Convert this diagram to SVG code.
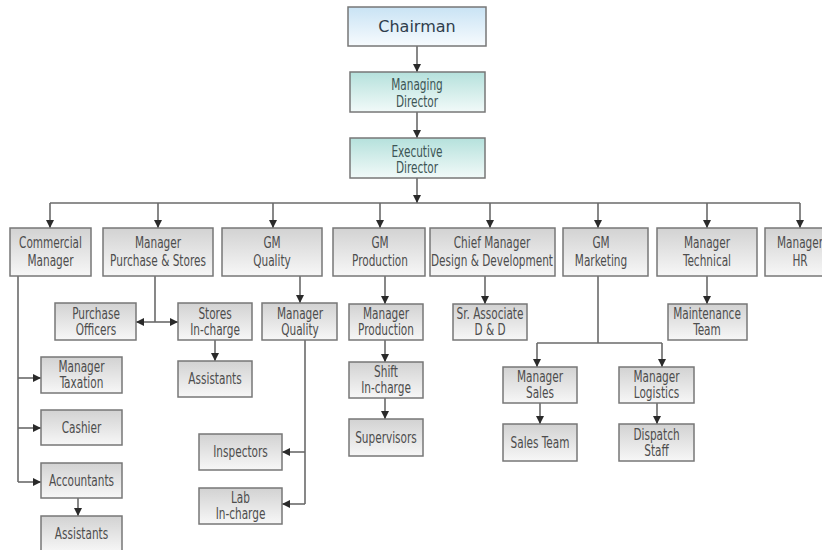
<svg xmlns="http://www.w3.org/2000/svg" width="822" height="550" viewBox="0 0 822 550">
<defs>
<linearGradient id="gGray" x1="0" y1="0" x2="0" y2="1"><stop offset="0" stop-color="#d2d2d2"/><stop offset="1" stop-color="#f7f7f7"/></linearGradient>
<linearGradient id="gTeal" x1="0" y1="0" x2="0" y2="1"><stop offset="0" stop-color="#b5e1dc"/><stop offset="1" stop-color="#f2faf9"/></linearGradient>
<linearGradient id="gBlue" x1="0" y1="0" x2="0" y2="1"><stop offset="0" stop-color="#c9e3f4"/><stop offset="1" stop-color="#f7fbfe"/></linearGradient>
<marker id="ah" markerUnits="userSpaceOnUse" markerWidth="9" markerHeight="8" refX="8" refY="4" orient="auto"><path d="M0,0 L8,4 L0,8 z" fill="#2a2a2a"/></marker>
</defs>
<style>
.box{fill:url(#gGray);stroke:#777777;stroke-width:1.5}
.teal{fill:url(#gTeal);stroke:#777777;stroke-width:1.5}
.blue{fill:url(#gBlue);stroke:#777777;stroke-width:1.5}
.t{font-family:"DejaVu Sans Condensed","DejaVu Sans",sans-serif;font-stretch:condensed;font-size:15px;fill:#4d4d4d;text-anchor:middle}
.tt{fill:#3d5555}
.big{font-family:"DejaVu Sans","Liberation Sans",sans-serif;font-size:16px;fill:#2f3d4c;text-anchor:middle}
.c{fill:none;stroke:#6a6a6a;stroke-width:1.6}
.a{marker-end:url(#ah)}
</style>
<rect width="822" height="550" fill="#ffffff"/>
<g id="connectors">
<path class="c a" d="M417,46 V72"/>
<path class="c a" d="M417,112 V138"/>
<path class="c a" d="M417,178 V203"/>
<path class="c" d="M50,203 H800"/>
<path class="c a" d="M50,203 V228"/>
<path class="c a" d="M158,203 V228"/>
<path class="c a" d="M273,203 V228"/>
<path class="c a" d="M380,203 V228"/>
<path class="c a" d="M490,203 V228"/>
<path class="c a" d="M598,203 V228"/>
<path class="c a" d="M707,203 V228"/>
<path class="c a" d="M800,203 V228"/>
<path class="c" d="M18,276 V482"/>
<path class="c a" d="M18,378 H41"/>
<path class="c a" d="M18,428 H41"/>
<path class="c a" d="M18,482 H41"/>
<path class="c a" d="M78,498 V516"/>
<path class="c" d="M155,276 V322"/>
<path class="c a" d="M155,322 H136"/>
<path class="c a" d="M155,322 H178"/>
<path class="c a" d="M215,340 V361"/>
<path class="c a" d="M300,276 V303"/>
<path class="c" d="M305,340 V504"/>
<path class="c a" d="M305,452 H282"/>
<path class="c a" d="M305,504 H282"/>
<path class="c a" d="M385,276 V304"/>
<path class="c a" d="M385,340 V362"/>
<path class="c a" d="M385,398 V419"/>
<path class="c a" d="M485,276 V304"/>
<path class="c" d="M598,276 V343"/>
<path class="c" d="M537,343 H662"/>
<path class="c a" d="M537,343 V367"/>
<path class="c a" d="M662,343 V367"/>
<path class="c a" d="M540,403 V424"/>
<path class="c a" d="M657,403 V424"/>
<path class="c a" d="M707,276 V304"/>
</g>
<g id="chairman"><rect class="blue" x="348" y="7" width="138" height="39"/><text class="big" x="417" y="32">Chairman</text></g>
<g id="managing-director"><rect class="teal" x="350" y="72" width="135" height="40"/><text class="t tt" transform="translate(417,0) scale(0.78,1)"><tspan x="0" y="90.5">Managing</tspan><tspan x="0" y="107">Director</tspan></text></g>
<g id="executive-director"><rect class="teal" x="350" y="138" width="135" height="40"/><text class="t tt" transform="translate(417,0) scale(0.78,1)"><tspan x="0" y="157">Executive</tspan><tspan x="0" y="173.5">Director</tspan></text></g>
<g id="commercial-manager"><rect class="box" x="10" y="228" width="81" height="48"/><text class="t" transform="translate(50.5,0) scale(0.78,1)"><tspan x="0" y="248.5">Commercial</tspan><tspan x="0" y="266.5">Manager</tspan></text></g>
<g id="manager-purchase-stores"><rect class="box" x="103" y="228" width="110" height="48"/><text class="t" transform="translate(158,0) scale(0.78,1)"><tspan x="0" y="248.5">Manager</tspan><tspan x="0" y="266.5">Purchase &amp; Stores</tspan></text></g>
<g id="gm-quality"><rect class="box" x="222" y="228" width="100" height="48"/><text class="t" transform="translate(272,0) scale(0.78,1)"><tspan x="0" y="248.5">GM</tspan><tspan x="0" y="266.5">Quality</tspan></text></g>
<g id="gm-production"><rect class="box" x="333" y="228" width="92" height="48"/><text class="t" transform="translate(380,0) scale(0.78,1)"><tspan x="0" y="248.5">GM</tspan><tspan x="0" y="266.5">Production</tspan></text></g>
<g id="chief-manager-dd"><rect class="box" x="430" y="228" width="125" height="48"/><text class="t" transform="translate(492,0) scale(0.78,1)"><tspan x="0" y="248.5">Chief Manager</tspan><tspan x="0" y="266.5">Design &amp; Development</tspan></text></g>
<g id="gm-marketing"><rect class="box" x="563" y="228" width="85" height="48"/><text class="t" transform="translate(601,0) scale(0.78,1)"><tspan x="0" y="248.5">GM</tspan><tspan x="0" y="266.5">Marketing</tspan></text></g>
<g id="manager-technical"><rect class="box" x="657" y="228" width="100" height="48"/><text class="t" transform="translate(707,0) scale(0.78,1)"><tspan x="0" y="248.5">Manager</tspan><tspan x="0" y="266.5">Technical</tspan></text></g>
<g id="manager-hr"><rect class="box" x="765" y="228" width="72" height="48"/><text class="t" transform="translate(800,0) scale(0.78,1)"><tspan x="0" y="248.5">Manager</tspan><tspan x="0" y="266.5">HR</tspan></text></g>
<g id="purchase-officers"><rect class="box" x="55" y="303" width="81" height="37"/><text class="t" transform="translate(96,0) scale(0.78,1)"><tspan x="0" y="319.5">Purchase</tspan><tspan x="0" y="335.5">Officers</tspan></text></g>
<g id="stores-incharge"><rect class="box" x="178" y="303" width="74" height="37"/><text class="t" transform="translate(215,0) scale(0.78,1)"><tspan x="0" y="319.5">Stores</tspan><tspan x="0" y="335.5">In-charge</tspan></text></g>
<g id="manager-quality"><rect class="box" x="262" y="303" width="75" height="37"/><text class="t" transform="translate(300,0) scale(0.78,1)"><tspan x="0" y="319.5">Manager</tspan><tspan x="0" y="335.5">Quality</tspan></text></g>
<g id="manager-production"><rect class="box" x="349" y="304" width="74" height="36"/><text class="t" transform="translate(386,0) scale(0.78,1)"><tspan x="0" y="319.5">Manager</tspan><tspan x="0" y="335.5">Production</tspan></text></g>
<g id="sr-associate"><rect class="box" x="453" y="304" width="74" height="36"/><text class="t" transform="translate(490,0) scale(0.78,1)"><tspan x="0" y="319.5">Sr. Associate</tspan><tspan x="0" y="335.5">D &amp; D</tspan></text></g>
<g id="maintenance-team"><rect class="box" x="668" y="304" width="79" height="36"/><text class="t" transform="translate(707,0) scale(0.78,1)"><tspan x="0" y="319.5">Maintenance</tspan><tspan x="0" y="335.5">Team</tspan></text></g>
<g id="manager-taxation"><rect class="box" x="41" y="357" width="81" height="36"/><text class="t" transform="translate(81.5,0) scale(0.78,1)"><tspan x="0" y="372.5">Manager</tspan><tspan x="0" y="388.5">Taxation</tspan></text></g>
<g id="cashier"><rect class="box" x="41" y="410" width="81" height="35"/><text class="t" transform="translate(81.5,0) scale(0.78,1)"><tspan x="0" y="433">Cashier</tspan></text></g>
<g id="accountants"><rect class="box" x="41" y="463" width="81" height="35"/><text class="t" transform="translate(81.5,0) scale(0.78,1)"><tspan x="0" y="486">Accountants</tspan></text></g>
<g id="assistants-accounts"><rect class="box" x="41" y="516" width="81" height="36"/><text class="t" transform="translate(81.5,0) scale(0.78,1)"><tspan x="0" y="539">Assistants</tspan></text></g>
<g id="assistants-stores"><rect class="box" x="178" y="361" width="74" height="36"/><text class="t" transform="translate(215,0) scale(0.78,1)"><tspan x="0" y="384.5">Assistants</tspan></text></g>
<g id="inspectors"><rect class="box" x="199" y="434" width="83" height="36"/><text class="t" transform="translate(240.5,0) scale(0.78,1)"><tspan x="0" y="457.5">Inspectors</tspan></text></g>
<g id="lab-incharge"><rect class="box" x="199" y="488" width="83" height="36"/><text class="t" transform="translate(240.5,0) scale(0.78,1)"><tspan x="0" y="503.5">Lab</tspan><tspan x="0" y="519.5">In-charge</tspan></text></g>
<g id="shift-incharge"><rect class="box" x="349" y="362" width="74" height="36"/><text class="t" transform="translate(386,0) scale(0.78,1)"><tspan x="0" y="377.5">Shift</tspan><tspan x="0" y="393.5">In-charge</tspan></text></g>
<g id="supervisors"><rect class="box" x="349" y="419" width="74" height="37"/><text class="t" transform="translate(386,0) scale(0.78,1)"><tspan x="0" y="443">Supervisors</tspan></text></g>
<g id="manager-sales"><rect class="box" x="503" y="367" width="74" height="36"/><text class="t" transform="translate(540,0) scale(0.78,1)"><tspan x="0" y="382.5">Manager</tspan><tspan x="0" y="398.5">Sales</tspan></text></g>
<g id="manager-logistics"><rect class="box" x="619" y="367" width="75" height="36"/><text class="t" transform="translate(656.5,0) scale(0.78,1)"><tspan x="0" y="382.5">Manager</tspan><tspan x="0" y="398.5">Logistics</tspan></text></g>
<g id="sales-team"><rect class="box" x="503" y="424" width="74" height="37"/><text class="t" transform="translate(540,0) scale(0.78,1)"><tspan x="0" y="448">Sales Team</tspan></text></g>
<g id="dispatch-staff"><rect class="box" x="619" y="424" width="75" height="37"/><text class="t" transform="translate(656.5,0) scale(0.78,1)"><tspan x="0" y="440.5">Dispatch</tspan><tspan x="0" y="456.5">Staff</tspan></text></g>
</svg>
